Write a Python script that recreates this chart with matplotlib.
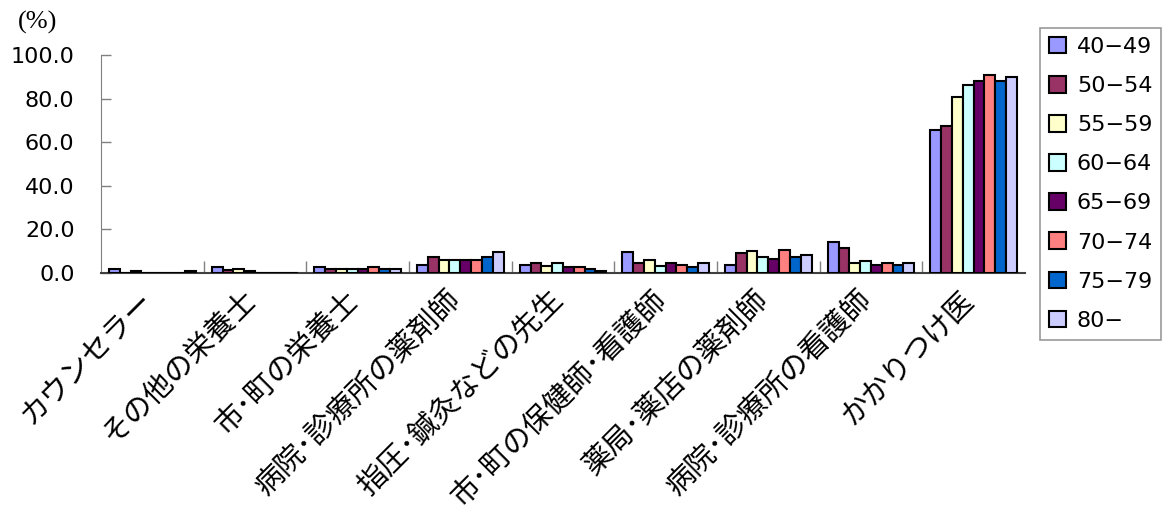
import numpy as np
import matplotlib
matplotlib.use('Agg')
import matplotlib.pyplot as plt
from matplotlib.transforms import ScaledTranslation

plt.rcParams['font.family'] = ['Noto Sans CJK JP', 'DejaVu Sans']

# 相談相手ごとの割合（年齢階級別, %）
categories = ['カウンセラー', 'その他の栄養士', '市･町の栄養士', '病院･診療所の薬剤師',
              '指圧･鍼灸などの先生', '市･町の保健師･看護師', '薬局･薬店の薬剤師',
              '病院･診療所の看護師', 'かかりつけ医']
age_groups = ['40−49', '50−54', '55−59', '60−64', '65−69', '70−74', '75−79', '80−']

v40_49 = [1.8, 2.7, 2.7, 3.5, 3.5, 9.8, 3.7, 14.4, 65.5]
v50_54 = [0.0, 1.4, 1.8, 7.2, 4.6, 4.4, 9.0, 11.6, 67.3]
v55_59 = [1.0, 1.8, 1.8, 6.0, 3.3, 6.1, 9.9, 4.4, 80.9]
v60_64 = [0.0, 0.9, 1.8, 6.0, 4.6, 3.3, 7.2, 5.5, 86.4]
v65_69 = [0.0, 0.0, 1.8, 6.0, 2.6, 4.6, 6.3, 3.7, 88.1]
v70_74 = [0.0, 0.0, 2.7, 6.0, 2.6, 3.8, 10.7, 4.6, 90.8]
v75_79 = [0.0, 0.0, 1.8, 7.2, 1.7, 2.6, 7.2, 3.7, 88.1]
v80 = [1.0, 0.0, 1.8, 9.8, 0.9, 4.6, 8.2, 4.6, 90.1]
series = [v40_49, v50_54, v55_59, v60_64, v65_69, v70_74, v75_79, v80]

colors = ['#9999FF', '#993366', '#FFFFCC', '#CCFFFF',
          '#660066', '#FF8080', '#0066CC', '#CCCCFF']

fig = plt.figure(figsize=(11.63, 5.27), dpi=100)
ax = fig.add_axes([0.0868, 0.482, 0.7945, 0.4137])

n = len(series)
x = np.arange(len(categories))
w = 1 / (n + 1.5)
for i, (vals, c) in enumerate(zip(series, colors)):
    offs = (i - (n - 1) / 2) * w
    ax.bar(x + offs, vals, width=w, color=c, edgecolor='black',
           linewidth=1.5, label=age_groups[i], zorder=3)

ax.set_xlim(-0.5, len(categories) - 0.5)
ax.set_ylim(0, 100)
yt = np.arange(0, 101, 20)
ax.set_yticks(yt)
ax.set_yticklabels([f'{t:.1f}' for t in yt], fontsize=16, family='DejaVu Sans')
ax.tick_params(axis='y', direction='in', length=7, width=1, color='#808080', pad=19)

# 区切り目盛りは主目盛り、項目名は副目盛りで表示
ax.set_xticks(np.arange(0.5, len(categories) - 0.5, 1))
ax.set_xticklabels([])
ax.tick_params(axis='x', which='major', direction='in', length=9, width=1, color='#808080')
ax.set_xticks(x, minor=True)
ax.set_xticklabels(categories, minor=True, rotation=45, ha='right', va='top',
                   rotation_mode='anchor', fontsize=21)
ax.tick_params(axis='x', which='minor', length=0, pad=9)
shift = ScaledTranslation(-14 / 100, 0, fig.dpi_scale_trans)
for lab in ax.get_xticklabels(minor=True):
    lab.set_transform(lab.get_transform() + shift)

for s in ['top', 'right']:
    ax.spines[s].set_visible(False)
ax.spines['left'].set_color('#808080')
ax.spines['bottom'].set_color('#404040')
ax.spines['bottom'].set_linewidth(1.5)

fig.text(0.032, 0.958, '(%)', fontsize=19, family='Liberation Serif',
         ha='center', va='center')

leg = ax.legend(loc='upper left', bbox_to_anchor=(1.016, 1.124), borderaxespad=0,
                prop={'family': 'DejaVu Sans', 'size': 16},
                frameon=True, fancybox=False, edgecolor='#808080',
                handlelength=0.77, handleheight=0.77, labelspacing=0.86,
                handletextpad=0.5, borderpad=0.4)
leg.get_frame().set_linewidth(1.2)

fig.savefig('out.png', dpi=100)
